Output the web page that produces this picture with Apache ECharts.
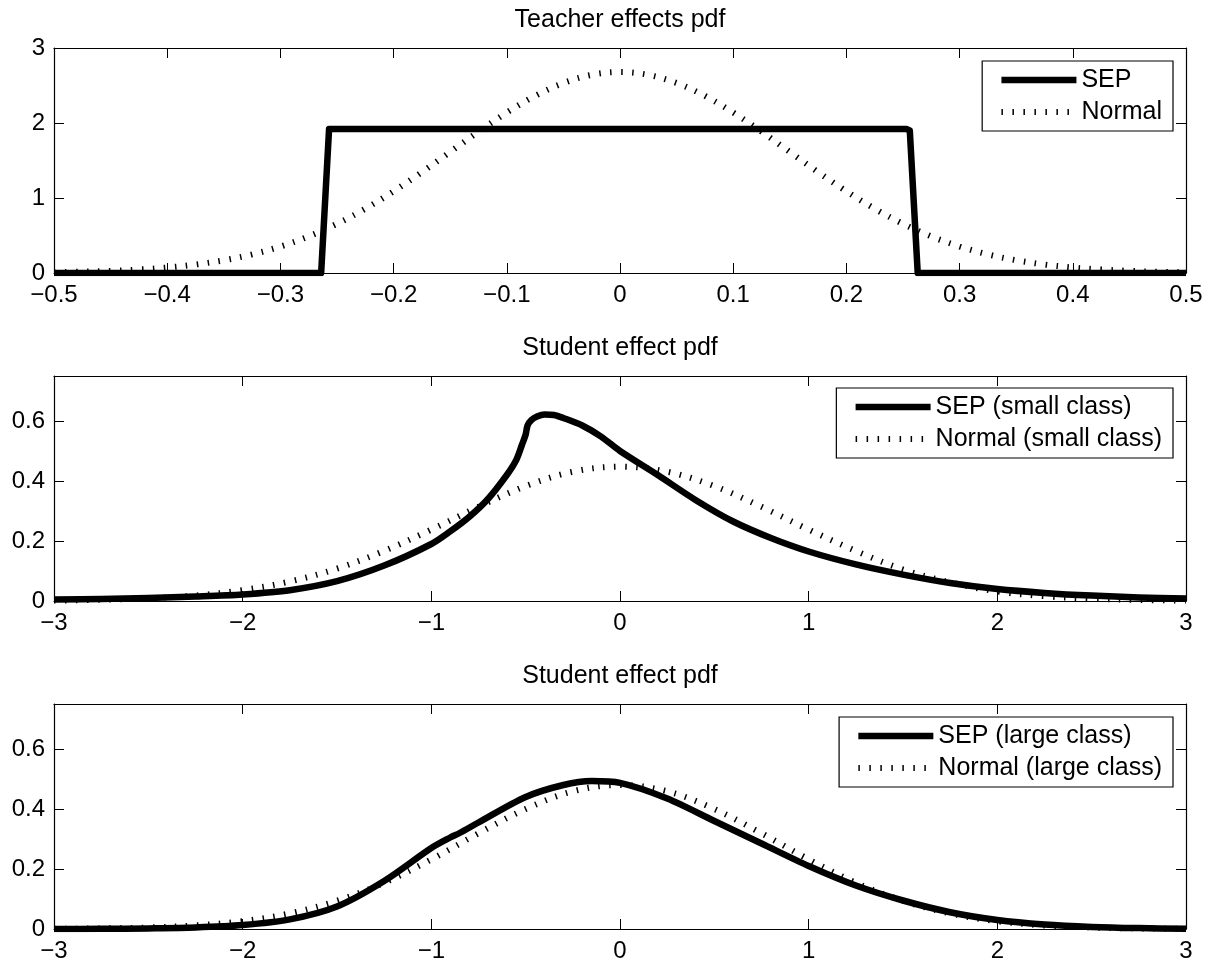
<!DOCTYPE html>
<html><head><meta charset="utf-8">
<script src="https://cdn.jsdelivr.net/npm/echarts@6/dist/echarts.min.js"></script>
<style>html,body{margin:0;padding:0;background:#fff}#c{width:1209px;height:964px}</style>
</head><body><div id="c"></div>
<script>
// ---------- Data ----------
const titles = ['Teacher effects pdf', 'Student effect pdf', 'Student effect pdf'];

// Panel 1: teacher effects
const teacherSepX = [-0.5, -0.264, -0.257, 0.253, 0.256, 0.263, 0.5];
const teacherSepY = [0, 0, 1.92, 1.92, 1.9, 0, 0];
const teacherNormX = [-0.5, -0.475, -0.45, -0.425, -0.4, -0.375, -0.35, -0.325, -0.3, -0.275, -0.25, -0.225, -0.2, -0.175, -0.15, -0.125, -0.1, -0.075, -0.05, -0.025, 0,
  0.025, 0.05, 0.075, 0.1, 0.125, 0.15, 0.175, 0.2, 0.225, 0.25, 0.275, 0.3, 0.325, 0.35, 0.375, 0.4, 0.425, 0.45, 0.475, 0.5];
const teacherNormY = [0.010, 0.017, 0.028, 0.046, 0.073, 0.113, 0.170, 0.248, 0.353, 0.488, 0.656, 0.857, 1.089, 1.345, 1.614, 1.885, 2.140, 2.361, 2.533, 2.642, 2.68,
  2.642, 2.533, 2.361, 2.140, 1.885, 1.614, 1.345, 1.089, 0.857, 0.656, 0.488, 0.353, 0.248, 0.170, 0.113, 0.073, 0.046, 0.028, 0.017, 0.010];

// Panel 2: student effect, small class
const smallSepX = [-3, -2.75, -2.5, -2.25, -2, -1.75, -1.5, -1.25, -1, -0.9, -0.8, -0.7, -0.6, -0.55, -0.52, -0.5, -0.49, -0.47, -0.44, -0.4, -0.35, -0.3, -0.2, -0.1, 0,
  0.2, 0.4, 0.6, 0.8, 1, 1.25, 1.5, 1.75, 2, 2.25, 2.5, 2.75, 3];
const smallSepY = [0.005, 0.007, 0.010, 0.015, 0.022, 0.036, 0.066, 0.118, 0.190, 0.232, 0.280, 0.340, 0.420, 0.470, 0.520, 0.555, 0.585, 0.603, 0.615, 0.622, 0.620, 0.610, 0.585, 0.548, 0.500,
  0.420, 0.337, 0.265, 0.210, 0.165, 0.122, 0.088, 0.060, 0.040, 0.027, 0.018, 0.012, 0.008];
const smallNormX = [-3, -2.75, -2.5, -2.25, -2, -1.75, -1.5, -1.25, -1, -0.75, -0.5, -0.25, 0, 0.25, 0.5, 0.75, 1, 1.25, 1.5, 1.75, 2, 2.25, 2.5, 2.75, 3];
const smallNormY = [0.0015, 0.004, 0.009, 0.018, 0.036, 0.065, 0.108, 0.167, 0.238, 0.314, 0.383, 0.431, 0.448, 0.431, 0.383, 0.314, 0.238, 0.167, 0.105, 0.062, 0.032, 0.016, 0.008, 0.0035, 0.0015];

// Panel 3: student effect, large class
const largeSepX = [-3, -2.75, -2.5, -2.25, -2, -1.75, -1.5, -1.25, -1, -0.9, -0.85, -0.75, -0.5, -0.3, -0.15, 0, 0.25, 0.5, 0.75, 1, 1.25, 1.5, 1.75, 2, 2.25, 2.5, 2.75, 3];
const largeSepY = [0, 0.0005, 0.002, 0.005, 0.013, 0.032, 0.075, 0.160, 0.270, 0.305, 0.320, 0.355, 0.440, 0.480, 0.493, 0.487, 0.435, 0.360, 0.285, 0.210, 0.145, 0.095, 0.056, 0.030, 0.015, 0.007, 0.003, 0.001];
const largeNormX = [-3, -2.75, -2.5, -2.25, -2, -1.75, -1.5, -1.25, -1, -0.75, -0.5, -0.25, 0, 0.25, 0.5, 0.75, 1, 1.25, 1.5, 1.75, 2, 2.25, 2.5, 2.75, 3];
const largeNormY = [0.0007, 0.002, 0.005, 0.012, 0.026, 0.052, 0.094, 0.154, 0.232, 0.319, 0.400, 0.459, 0.480, 0.459, 0.400, 0.319, 0.232, 0.154, 0.094, 0.052, 0.026, 0.012, 0.005, 0.002, 0.0007];

// Tick labels
const teacherXTicks = [-0.5, -0.4, -0.3, -0.2, -0.1, 0, 0.1, 0.2, 0.3, 0.4, 0.5];
const teacherYTicks = [0, 1, 2, 3];
const studentXTicks = [-3, -2, -1, 0, 1, 2, 3];
const studentYTicks = [0, 0.2, 0.4, 0.6];

const legendNames = [
  ['SEP', 'Normal'],
  ['SEP (small class)', 'Normal (small class)'],
  ['SEP (large class)', 'Normal (large class)']
];

// ---------- Chart ----------
const FONT = '"Liberation Sans", Arial, Helvetica, sans-serif';
const zip = (xs, ys) => xs.map((x, i) => [x, ys[i]]);
const fmt = v => (v < 0 ? '\u2212' : '') + String(Math.abs(v));

const panels = [
  { top: 48, xMin: -0.5, xMax: 0.5, yMax: 3, xTicks: teacherXTicks, yTicks: teacherYTicks,
    sep: zip(teacherSepX, teacherSepY), norm: zip(teacherNormX, teacherNormY), sepSmooth: false,
    legendTop: 61 },
  { top: 376, xMin: -3, xMax: 3, yMax: 0.75, xTicks: studentXTicks, yTicks: studentYTicks,
    sep: zip(smallSepX, smallSepY), norm: zip(smallNormX, smallNormY), sepSmooth: 0.3,
    legendTop: 388 },
  { top: 704, xMin: -3, xMax: 3, yMax: 0.75, xTicks: studentXTicks, yTicks: studentYTicks,
    sep: zip(largeSepX, largeSepY), norm: zip(largeNormX, largeNormY), sepSmooth: 0.3,
    legendTop: 717 }
];
const GRID_H = 225;

const option = {
  animation: false,
  backgroundColor: '#fff',
  textStyle: { fontFamily: FONT },
  title: [], grid: [], xAxis: [], yAxis: [], series: [], legend: []
};

const axisLine = { show: true, onZero: false, lineStyle: { color: '#000', width: 1.2 } };
const tickStyle = { show: true, inside: true, length: 10, lineStyle: { color: '#000', width: 1 } };

panels.forEach((p, i) => {
  option.title.push({
    text: titles[i], left: 620, textAlign: 'center', top: p.top - 40, padding: 0,
    textStyle: { fontSize: 25, fontWeight: 'normal', color: '#000', fontFamily: FONT }
  });
  option.grid.push({ left: 54, right: 23, top: p.top, height: GRID_H, containLabel: false });
  option.xAxis.push({
    gridIndex: i, type: 'value', position: 'bottom', min: p.xMin, max: p.xMax,
    axisLine, axisTick: Object.assign({ customValues: p.xTicks }, tickStyle), splitLine: { show: false },
    axisLabel: { customValues: p.xTicks, formatter: fmt, fontSize: 24, color: '#000', margin: 10, fontFamily: FONT,
      showMinLabel: true, showMaxLabel: true }
  });
  option.xAxis.push({
    gridIndex: i, type: 'value', position: 'top', min: p.xMin, max: p.xMax,
    axisLine, axisTick: Object.assign({ customValues: p.xTicks }, tickStyle), splitLine: { show: false },
    axisLabel: { show: false }
  });
  option.yAxis.push({
    gridIndex: i, type: 'value', position: 'left', min: 0, max: p.yMax,
    axisLine, axisTick: Object.assign({ customValues: p.yTicks }, tickStyle), splitLine: { show: false },
    axisLabel: { customValues: p.yTicks, formatter: fmt, fontSize: 24, color: '#000', margin: 9, fontFamily: FONT }
  });
  option.yAxis.push({
    gridIndex: i, type: 'value', position: 'right', min: 0, max: p.yMax,
    axisLine, axisTick: Object.assign({ customValues: p.yTicks }, tickStyle), splitLine: { show: false },
    axisLabel: { show: false }
  });
  option.series.push({
    name: legendNames[i][0], type: 'line', xAxisIndex: 2 * i, yAxisIndex: 2 * i,
    data: p.sep, symbol: 'none', smooth: p.sepSmooth,
    lineStyle: { color: '#000', width: 6.5, join: 'round', cap: 'butt' }, itemStyle: { color: '#000' }, z: 3
  });
  option.series.push({
    name: legendNames[i][1], type: 'line', xAxisIndex: 2 * i, yAxisIndex: 2 * i,
    data: p.norm, symbol: 'none', smooth: 0.35,
    lineStyle: { color: '#000', width: 6, type: [1.5, 9.5], cap: 'butt' }, itemStyle: { color: '#000' }, z: 4
  });
  option.legend.push({
    data: legendNames[i].map(n => ({ name: n, itemStyle: { opacity: 0 } })),
    orient: 'vertical', right: 36, top: p.legendTop, align: 'left',
    itemWidth: 75, itemHeight: 26, itemGap: 6, padding: [6, 11, 6, 16],
    borderColor: '#000', borderWidth: 1.2, borderRadius: 0, backgroundColor: '#fff',
    selectedMode: false,
    lineStyle: { width: 'inherit', type: 'inherit' },
    textStyle: { fontSize: 25, color: '#000', fontFamily: FONT, lineHeight: 26 }
  });
});

const chart = echarts.init(document.getElementById('c'), null, { renderer: 'canvas' });
chart.setOption(option);
</script>
</body></html>
